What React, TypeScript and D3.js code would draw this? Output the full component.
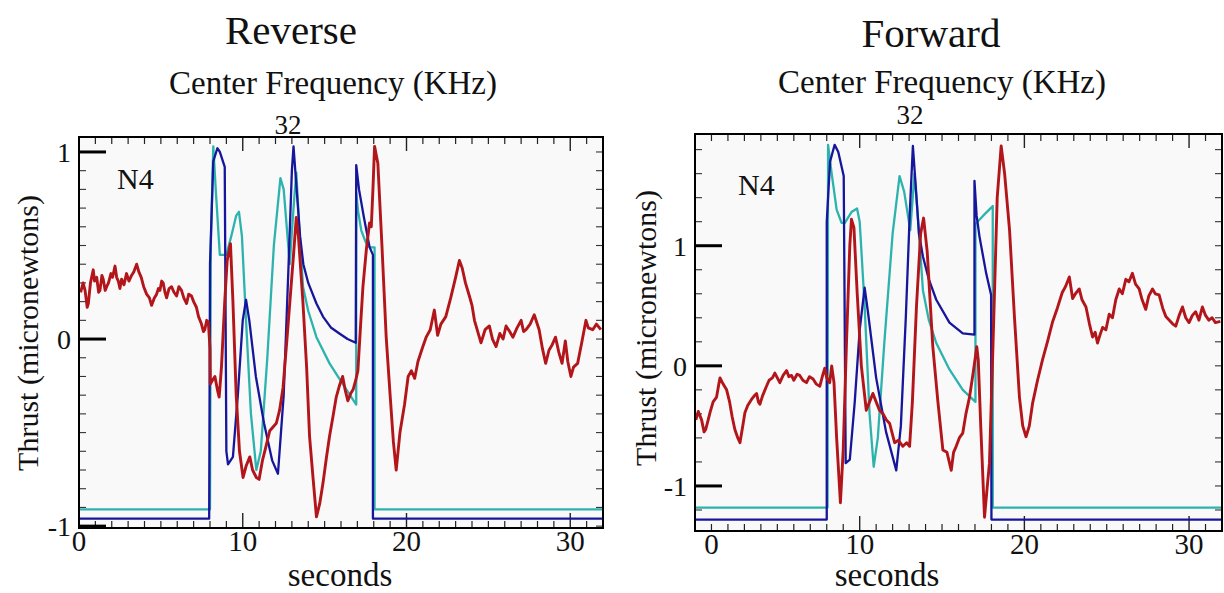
import React from "react";
import * as d3 from "d3";

type Pt = [number, number];

const W = 1224;
const H = 593;

// time axis (seconds) shared by both panels
const xDomain: [number, number] = [0, 32];
const xTickValues = [0, 10, 20, 30];
const xTickText = ["0", "10", "20", "30"];
// the forward plot prints its "0" one second to the right
const revXLabelAt = [0, 10, 20, 30];
const fwdXLabelAt = [1, 10, 20, 30];
const yTickValues = [-1, 0, 1];
const yTickText = ["-1", "0", "1"];

// ---- Reverse panel ----
const revBlue: Pt[] = [
  [0, -0.96], [7.95, -0.96], [8.0, 0.4], [8.2, 0.95], [8.45, 1.02], [8.6, 1.0], [8.9, 0.92],
  [9.0, -0.6], [9.1, -0.67], [9.4, -0.63], [9.7, -0.3], [10.0, 0.1], [10.2, 0.21], [10.4, 0.1],
  [10.8, -0.2], [11.3, -0.45], [11.8, -0.65], [12.15, -0.72], [12.5, -0.3], [12.8, 0.4],
  [13.0, 0.9], [13.1, 1.03], [13.25, 0.85], [13.5, 0.55], [13.7, 0.4], [14.0, 0.3], [14.5, 0.19],
  [14.9, 0.12], [15.4, 0.06], [15.9, 0.03], [16.4, 0.0], [16.9, -0.02], [16.93, 0.93],
  [17.1, 0.8], [17.4, 0.65], [17.75, 0.49], [17.95, 0.45], [17.95, -0.96], [32, -0.96],
];

const revCyan: Pt[] = [
  [0, -0.91], [8.0, -0.91], [8.05, 0.5], [8.2, 1.03], [8.35, 0.8], [8.6, 0.45], [9.0, 0.45],
  [9.3, 0.55], [9.6, 0.66], [9.77, 0.68], [9.95, 0.55], [10.2, 0.1], [10.5, -0.4], [10.83, -0.7],
  [11.1, -0.6], [11.5, -0.1], [11.9, 0.5], [12.3, 0.86], [12.5, 0.8], [12.87, 0.4], [13.1, 0.7],
  [13.27, 0.89], [13.45, 0.6], [13.68, 0.28], [14.0, 0.15], [14.5, 0.01], [15.3, -0.13],
  [16.1, -0.24], [16.93, -0.35], [16.93, 0.78], [17.05, 0.68], [17.24, 0.58], [17.5, 0.52],
  [17.75, 0.49], [18.05, 0.49], [18.05, -0.91], [32, -0.91],
];

const revRed: Pt[] = [
  [0.1, 0.25], [0.25, 0.3], [0.37, 0.26], [0.5, 0.17], [0.57, 0.19], [0.7, 0.3], [0.87, 0.37],
  [0.95, 0.31], [1.08, 0.33], [1.2, 0.25], [1.28, 0.26], [1.4, 0.34], [1.48, 0.32], [1.6, 0.26],
  [1.69, 0.28], [1.8, 0.3], [1.95, 0.35], [2.05, 0.33], [2.2, 0.39], [2.3, 0.33], [2.4, 0.31],
  [2.5, 0.27], [2.6, 0.32], [2.75, 0.29], [2.9, 0.35], [3.05, 0.31], [3.21, 0.34], [3.35, 0.36],
  [3.52, 0.4], [3.65, 0.36], [3.8, 0.33], [3.95, 0.28], [4.13, 0.24], [4.3, 0.22], [4.43, 0.18],
  [4.6, 0.22], [4.74, 0.24], [4.85, 0.27], [4.94, 0.26], [5.05, 0.31], [5.14, 0.3], [5.25, 0.25],
  [5.35, 0.22], [5.5, 0.27], [5.65, 0.28], [5.8, 0.25], [5.96, 0.23], [6.1, 0.28], [6.26, 0.26],
  [6.4, 0.22], [6.57, 0.19], [6.7, 0.24], [6.87, 0.23], [7.0, 0.2], [7.17, 0.17], [7.3, 0.12],
  [7.48, 0.08], [7.6, 0.04], [7.68, 0.05], [7.8, 0.1], [7.9, 0.09], [8.0, -0.05], [8.02, -0.24],
  [8.15, -0.22], [8.3, -0.2], [8.45, -0.27], [8.56, -0.31], [8.7, -0.15], [8.9, 0.2], [9.05, 0.42],
  [9.25, 0.51], [9.4, 0.2], [9.6, -0.3], [9.8, -0.6], [10.02, -0.74], [10.2, -0.68], [10.43, -0.63],
  [10.6, -0.7], [10.83, -0.74], [11.0, -0.75], [11.2, -0.65], [11.4, -0.58], [11.65, -0.49],
  [11.85, -0.47], [12.05, -0.45], [12.25, -0.38], [12.46, -0.26], [12.7, 0.0], [12.87, 0.19],
  [13.1, 0.45], [13.27, 0.65], [13.4, 0.55], [13.68, 0.19], [13.9, -0.15], [14.08, -0.52],
  [14.3, -0.75], [14.5, -0.95], [14.7, -0.88], [14.9, -0.77], [15.1, -0.64], [15.3, -0.52],
  [15.5, -0.42], [15.71, -0.31], [15.9, -0.25], [16.1, -0.2], [16.25, -0.27], [16.42, -0.33],
  [16.6, -0.29], [16.74, -0.27], [16.9, -0.22], [17.03, -0.17], [17.2, 0.08], [17.34, 0.28],
  [17.55, 0.48], [17.74, 0.62], [17.85, 0.6], [17.95, 0.8], [18.05, 1.03], [18.25, 0.94],
  [18.5, 0.5], [18.76, 0.01], [19.0, -0.3], [19.2, -0.55], [19.37, -0.7], [19.6, -0.5],
  [19.88, -0.35], [20.1, -0.2], [20.3, -0.17], [20.5, -0.21], [20.7, -0.12], [21.0, -0.04],
  [21.2, 0.01], [21.45, 0.05], [21.7, 0.155], [21.9, 0.02], [22.1, 0.08], [22.4, 0.12], [22.7, 0.22],
  [23.0, 0.33], [23.23, 0.42], [23.4, 0.38], [23.6, 0.3], [23.84, 0.23], [24.0, 0.18], [24.15, 0.1],
  [24.35, 0.04], [24.55, -0.02], [24.8, 0.05], [25.06, 0.07], [25.25, 0.0], [25.47, -0.04],
  [25.7, 0.03], [25.9, 0.0], [26.08, 0.07], [26.3, 0.04], [26.5, 0.01], [26.75, 0.06], [27.0, 0.1],
  [27.15, 0.04], [27.3, 0.05], [27.55, 0.08], [27.8, 0.13], [27.95, 0.09], [28.1, 0.05],
  [28.3, -0.05], [28.5, -0.13], [28.7, -0.06], [28.9, -0.03], [29.1, 0.01], [29.3, -0.07],
  [29.5, -0.13], [29.7, -0.01], [29.85, -0.12], [30.04, -0.2], [30.2, -0.15], [30.45, -0.13],
  [30.7, -0.02], [30.96, 0.1], [31.1, 0.06], [31.37, 0.05], [31.6, 0.08], [31.87, 0.05],
];

// ---- Forward panel ----
const fwdBlue: Pt[] = [
  [0, -1.28], [8.0, -1.28], [8.0, 1.2], [8.2, 1.7], [8.48, 1.84], [8.7, 1.78], [9.03, 1.58],
  [9.15, -0.81], [9.4, -0.78], [9.7, -0.3], [10.0, 0.3], [10.3, 0.65], [10.5, 0.45], [11.0, -0.1],
  [11.6, -0.55], [12.22, -0.87], [12.5, -0.5], [12.8, 0.4], [13.05, 1.3], [13.23, 1.83],
  [13.4, 1.5], [13.6, 1.1], [13.84, 0.91], [14.2, 0.72], [14.65, 0.55], [15.45, 0.36],
  [16.26, 0.27], [16.97, 0.26], [16.97, 1.54], [17.1, 1.25], [17.27, 1.08], [17.68, 0.77],
  [17.98, 0.59], [18.0, -1.28], [32, -1.28],
];

const fwdCyan: Pt[] = [
  [0, -1.18], [8.05, -1.18], [8.08, 1.84], [8.3, 1.6], [8.6, 1.3], [8.9, 1.19], [9.1, 1.19],
  [9.5, 1.28], [9.84, 1.31], [10.0, 1.2], [10.3, 0.5], [10.6, -0.4], [10.85, -0.84], [11.1, -0.6],
  [11.5, 0.2], [12.0, 1.1], [12.42, 1.58], [12.7, 1.45], [13.07, 1.13], [13.33, 1.6], [13.5, 1.3],
  [13.84, 0.63], [14.2, 0.38], [14.65, 0.19], [15.45, -0.03], [16.26, -0.2], [17.03, -0.3],
  [17.03, 1.18], [17.5, 1.25], [18.08, 1.33], [18.08, -1.18], [32, -1.18],
];

const fwdRed: Pt[] = [
  [0.05, -0.45], [0.2, -0.38], [0.4, -0.45], [0.55, -0.55], [0.65, -0.53], [0.8, -0.45],
  [0.91, -0.39], [1.1, -0.3], [1.31, -0.26], [1.45, -0.15], [1.52, -0.1], [1.7, -0.15], [1.92, -0.2],
  [2.1, -0.3], [2.25, -0.42], [2.42, -0.53], [2.6, -0.6], [2.73, -0.64], [2.9, -0.5], [3.03, -0.39],
  [3.2, -0.33], [3.43, -0.28], [3.6, -0.25], [3.74, -0.23], [3.85, -0.3], [3.94, -0.32], [4.1, -0.25],
  [4.34, -0.17], [4.5, -0.12], [4.7, -0.1], [4.85, -0.06], [5.0, -0.1], [5.15, -0.14], [5.35, -0.08],
  [5.56, -0.04], [5.7, -0.09], [5.86, -0.08], [6.0, -0.12], [6.2, -0.07], [6.36, -0.08],
  [6.55, -0.12], [6.77, -0.14], [6.95, -0.09], [7.17, -0.11], [7.35, -0.15], [7.58, -0.17],
  [7.75, -0.08], [7.88, -0.02], [8.0, -0.1], [8.18, -0.14], [8.3, 0.0], [8.44, -0.14], [8.6, -0.6],
  [8.83, -1.14], [9.0, -0.7], [9.2, 0.2], [9.4, 1.0], [9.5, 1.22], [9.65, 1.15], [9.85, 0.6],
  [10.1, 0.0], [10.4, -0.37], [10.6, -0.3], [10.8, -0.23], [11.0, -0.3], [11.2, -0.37],
  [11.42, -0.4], [11.62, -0.45], [11.82, -0.48], [12.12, -0.64], [12.35, -0.62], [12.62, -0.67],
  [12.85, -0.64], [13.03, -0.67], [13.2, -0.3], [13.45, 0.5], [13.7, 1.1], [13.88, 1.23],
  [14.1, 0.95], [14.44, 0.16], [14.75, -0.3], [15.05, -0.7], [15.3, -0.72], [15.56, -0.87],
  [15.7, -0.72], [15.86, -0.67], [16.05, -0.6], [16.26, -0.56], [16.45, -0.4], [16.67, -0.26],
  [16.9, -0.05], [17.11, 0.16], [17.2, 0.05], [17.35, -0.5], [17.58, -1.26], [17.75, -1.0],
  [17.88, -0.81], [18.1, 0.2], [18.35, 1.4], [18.59, 1.83], [18.8, 1.6], [19.1, 1.13], [19.4, 0.4],
  [19.7, -0.26], [19.9, -0.5], [20.1, -0.59], [20.3, -0.5], [20.5, -0.31], [20.8, -0.12],
  [21.1, 0.05], [21.4, 0.2], [21.7, 0.36], [22.0, 0.48], [22.3, 0.61], [22.5, 0.66], [22.73, 0.74],
  [22.93, 0.56], [23.1, 0.6], [23.33, 0.64], [23.5, 0.55], [23.74, 0.49], [23.95, 0.35],
  [24.14, 0.24], [24.3, 0.28], [24.44, 0.19], [24.6, 0.26], [24.75, 0.32], [24.95, 0.3],
  [25.15, 0.43], [25.35, 0.4], [25.55, 0.55], [25.76, 0.64], [25.95, 0.6], [26.16, 0.72],
  [26.35, 0.7], [26.56, 0.77], [26.75, 0.68], [26.97, 0.64], [27.15, 0.55], [27.37, 0.47],
  [27.55, 0.58], [27.78, 0.64], [27.95, 0.6], [28.18, 0.59], [28.4, 0.48], [28.59, 0.41],
  [28.8, 0.38], [29.0, 0.35], [29.19, 0.33], [29.4, 0.42], [29.6, 0.49], [29.8, 0.4], [30.0, 0.36],
  [30.2, 0.42], [30.4, 0.45], [30.6, 0.38], [30.81, 0.49], [31.0, 0.42], [31.2, 0.38], [31.4, 0.4],
  [31.6, 0.36], [31.9, 0.37],
];

const BLUE = "#16169c";
const CYAN = "#2db3ae";
const RED = "#b3161a";
const FONT = "'Liberation Serif', 'DejaVu Serif', serif";

type PanelProps = {
  id: string;
  left: number;
  right: number;
  top: number;
  bottom: number;
  yDomain: [number, number];
  yMinorStep: number;
  xLabelAt: number[];
  blue: Pt[];
  cyan: Pt[];
  red: Pt[];
  title: { text: string; x: number; y: number };
  sub: { x: number; y: number };
  freq: { x: number; y: number };
  tag: { x: number; y: number };
  yLabel: { x: number; y: number };
  xLabel: { x: number; y: number };
};

const Panel = (p: PanelProps) => {
  const x = d3.scaleLinear().domain(xDomain).range([p.left, p.right]);
  const y = d3.scaleLinear().domain(p.yDomain).range([p.bottom, p.top]);
  const line = d3
    .line<Pt>()
    .x((d) => x(d[0]))
    .y((d) => y(d[1]));

  const xMinor = d3.range(1, 32).filter((v) => v % 10 !== 0);
  const k0 = Math.ceil(p.yDomain[0] / p.yMinorStep - 1e-6);
  const k1 = Math.floor(p.yDomain[1] / p.yMinorStep + 1e-6);
  const yMinor = d3.range(k0, k1 + 1).map((k) => k * p.yMinorStep);

  return (
    <g>
      <defs>
        <clipPath id={`clip-${p.id}`}>
          <rect x={p.left} y={p.top} width={p.right - p.left} height={p.bottom - p.top} />
        </clipPath>
      </defs>
      <rect x={p.left} y={p.top} width={p.right - p.left} height={p.bottom - p.top} fill="#f9f9f9" />

      {/* minor x ticks, top and bottom */}
      {xMinor.map((v) => (
        <g key={`xm${v}`} stroke="#222" strokeWidth={1.2}>
          <line x1={x(v)} x2={x(v)} y1={p.bottom} y2={p.bottom - 7} />
          <line x1={x(v)} x2={x(v)} y1={p.top} y2={p.top + 7} />
        </g>
      ))}
      {xTickValues.map((v) => (
        <g key={`xM${v}`} stroke="#222" strokeWidth={1.4}>
          <line x1={x(v)} x2={x(v)} y1={p.bottom} y2={p.bottom - 15} />
          <line x1={x(v)} x2={x(v)} y1={p.top} y2={p.top + 14} />
        </g>
      ))}
      {/* minor y ticks, left and right */}
      {yMinor.map((v) => (
        <g key={`ym${v}`} stroke="#333" strokeWidth={1.1}>
          <line x1={p.left} x2={p.left + 7} y1={y(v)} y2={y(v)} />
          <line x1={p.right} x2={p.right - 7} y1={y(v)} y2={y(v)} />
        </g>
      ))}

      <g clipPath={`url(#clip-${p.id})`} fill="none" strokeLinejoin="round">
        <path d={line(p.cyan) ?? ""} stroke={CYAN} strokeWidth={2.3} />
        <path d={line(p.blue) ?? ""} stroke={BLUE} strokeWidth={2.3} />
        <path d={line(p.red) ?? ""} stroke={RED} strokeWidth={2.9} />
      </g>

      {/* major y ticks */}
      {yTickValues.map((v) => (
        <line key={`yM${v}`} x1={p.left} x2={p.left + 27} y1={y(v)} y2={y(v)} stroke="#000" strokeWidth={3} />
      ))}

      <rect
        x={p.left}
        y={p.top}
        width={p.right - p.left}
        height={p.bottom - p.top}
        fill="none"
        stroke="#000"
        strokeWidth={2}
      />

      <g fontFamily={FONT} fill="#111">
        {yTickValues.map((v, i) => (
          <text key={`yl${v}`} x={p.left - 8} y={y(v)} dy="0.35em" textAnchor="end" fontSize={28}>
            {yTickText[i]}
          </text>
        ))}
        {xTickValues.map((v, i) => (
          <text key={`xl${v}`} x={x(p.xLabelAt[i])} y={p.bottom + 23} textAnchor="middle" fontSize={29}>
            {xTickText[i]}
          </text>
        ))}
        <text x={p.title.x} y={p.title.y} textAnchor="middle" fontSize={41}>
          {p.title.text}
        </text>
        <text x={p.sub.x} y={p.sub.y} textAnchor="middle" fontSize={33}>
          Center Frequency (KHz)
        </text>
        <text x={p.freq.x} y={p.freq.y} textAnchor="middle" fontSize={27}>
          32
        </text>
        <text x={p.tag.x} y={p.tag.y} fontSize={30}>
          N4
        </text>
        <text
          transform={`translate(${p.yLabel.x},${p.yLabel.y}) rotate(-90)`}
          textAnchor="middle"
          fontSize={30}
        >
          Thrust (micronewtons)
        </text>
        <text x={p.xLabel.x} y={p.xLabel.y} textAnchor="middle" fontSize={33}>
          seconds
        </text>
      </g>
    </g>
  );
};

const App = () => (
  <svg
    width={W}
    height={H}
    style={{ position: "absolute", left: 0, top: 0, background: "#fff" }}
  >
    <rect width={W} height={H} fill="#fff" />
    <Panel
      id="rev"
      left={79}
      right={603}
      top={137}
      bottom={528}
      yDomain={[-1.01, 1.08]}
      yMinorStep={0.1}
      xLabelAt={revXLabelAt}
      blue={revBlue}
      cyan={revCyan}
      red={revRed}
      title={{ text: "Reverse", x: 291, y: 44 }}
      sub={{ x: 333, y: 94 }}
      freq={{ x: 288, y: 134 }}
      tag={{ x: 117, y: 189 }}
      yLabel={{ x: 38, y: 333 }}
      xLabel={{ x: 340, y: 586 }}
    />
    <Panel
      id="fwd"
      left={695}
      right={1222}
      top={134}
      bottom={531}
      yDomain={[-1.375, 1.93]}
      yMinorStep={0.2}
      xLabelAt={fwdXLabelAt}
      blue={fwdBlue}
      cyan={fwdCyan}
      red={fwdRed}
      title={{ text: "Forward", x: 931, y: 47 }}
      sub={{ x: 942, y: 93 }}
      freq={{ x: 910, y: 124 }}
      tag={{ x: 738, y: 195 }}
      yLabel={{ x: 656, y: 328 }}
      xLabel={{ x: 887, y: 586 }}
    />
  </svg>
);

export default App;
